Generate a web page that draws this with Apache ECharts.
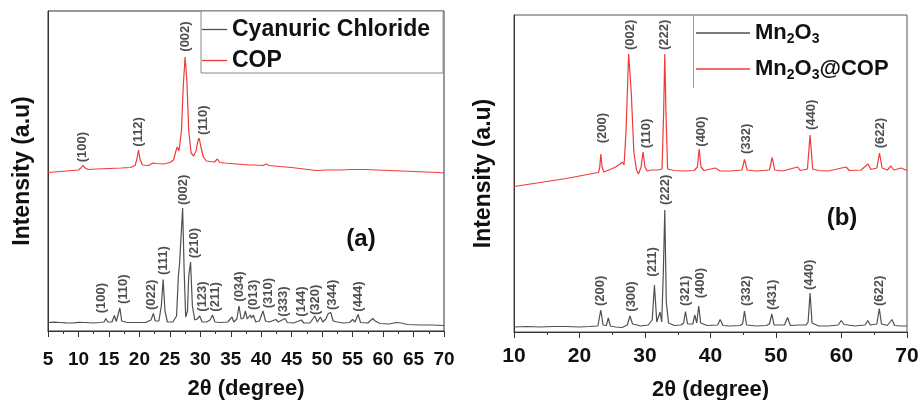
<!DOCTYPE html>
<html>
<head>
<meta charset="utf-8">
<script src="https://cdn.jsdelivr.net/npm/echarts@6/dist/echarts.min.js"></script>
<style>html,body{margin:0;padding:0;background:#fff}#c{width:921px;height:400px}</style>
</head>
<body>
<div id="c"></div>
<script>
// ---- Panel (a): 2θ vs intensity (a.u.) ----
var ccData = [[5,8.5],[6,8.8],[7,8.5],[8,8.2],[9,8],[10,8.6],[11,8.5],[12.5,8],[13.5,8.5],[14.2,9],[14.5,12.5],[14.8,9],[15.5,9],[15.9,15.5],[16.2,9.5],[16.5,11],[16.8,23],[17.1,10],[18,8.5],[19.5,8.5],[21,8.5],[21.9,11],[22.3,17.5],[22.6,10],[23.2,10],[23.6,25],[23.9,51.5],[24.2,20],[24.6,9],[25.5,9],[26.1,15],[26.4,55],[26.6,68],[26.8,66],[27.1,123],[27.35,60],[27.6,14],[27.9,20],[28.1,55],[28.4,69],[28.7,25],[29.1,11],[29.5,12],[29.9,15],[30.3,9],[31,9],[31.6,11],[32,16],[32.4,9],[33.3,8.5],[34.5,9],[35.2,14],[35.5,9],[36,12],[36.35,25],[36.7,12],[37.1,13],[37.4,20],[37.7,12],[38.2,16],[38.4,13],[38.7,16],[39.1,9],[39.7,10],[40.3,20],[40.7,10],[41.3,9],[42.4,11.5],[42.8,9],[43.9,12.5],[44.3,8.5],[45.3,8],[46.6,11],[47,8],[48,8],[48.8,15],[49.2,9],[49.7,14],[50.1,9],[50.6,12],[51,17.5],[51.4,18.5],[51.8,10],[52.5,9],[53.5,8],[54.5,8.5],[55,11.5],[55.4,9],[55.9,16.5],[56.3,8.5],[57.5,8],[58.3,12.5],[58.7,10],[59,11.5],[59.5,7.5],[61,7],[62.2,8.5],[63,8],[64,6.5],[66,6],[68,6],[70,5.5]];
var copData = [[5,158.5],[6,159],[7,159.5],[8,160],[9,160.5],[10,161],[10.4,163],[10.7,165.5],[11.1,163],[11.6,161.5],[13,162],[15,162.5],[17,163],[18.5,163.5],[19.3,165.5],[19.6,172],[19.85,181],[20.1,172],[20.5,166],[21.5,165.5],[22.2,168],[22.5,170],[22.9,167.5],[24,167],[25,168.5],[25.6,171],[26.0,180],[26.2,184],[26.5,180],[26.9,200],[27.2,245],[27.5,274],[27.8,250],[28.1,200],[28.5,178],[28.9,175],[29.3,180],[29.6,190],[29.8,193],[30.1,184],[30.5,174],[31,170],[32.3,169],[32.8,172],[33.2,168.5],[34,168],[35,167.5],[36,167],[37,166.5],[38,166],[39,166],[40.3,165.5],[40.8,167],[41.3,165.5],[43,164.5],[45,163.5],[47,162],[49,160.5],[51,161],[53,161],[55,161.5],[57,161.5],[59,161],[61,160.5],[63,160],[65,159.5],[67,159],[69,158.5],[70,158]];
var aTopLabels = [['(100)',10.7,168.7],['(112)',19.9,184.3],['(002)',27.55,279.3],['(110)',30.55,196]];
var aBotLabels = [['(100)',13.76,17.7],['(110)',17.3,27],['(022)',21.97,21],['(111)',24.0,56],['(002)',27.16,126],['(210)',29.08,72.7],['(123)',30.34,19.3],['(211)',32.5,19.3],['(034)',36.35,29.3],['(013)',38.65,21],['(310)',41.17,22.7],['(333)',43.57,14.3],['(144)',46.6,14.3],['(320)',48.97,16],['(344)',51.7,21],['(444)',56.03,19.3]];

// ---- Panel (b) ----
var mnData = [[10,5],[12,5.5],[14,5],[16,5.5],[18,5.5],[20,5],[21.5,5.5],[22.8,6],[23.25,22],[23.6,7],[24.1,6.5],[24.4,14],[24.7,6],[25.5,5],[26.5,4.5],[27.3,7],[27.7,16],[28.1,8],[28.8,7],[29.0,9],[29.3,6],[30.5,7],[31.1,12],[31.44,47],[31.8,10],[32.1,9],[32.3,20],[32.55,10],[32.8,60],[33.02,122],[33.25,30],[33.6,9],[34.5,6.5],[35.5,7],[35.9,9],[36.18,20.5],[36.5,8],[37.3,8],[37.6,17],[37.9,9],[38.2,26],[38.5,9],[39.5,6.5],[41.1,7],[41.47,12.5],[41.9,6.5],[43,6],[44.5,6.5],[44.9,8],[45.19,21],[45.5,7],[47,6],[48.5,6.5],[49.0,8],[49.37,18],[49.7,7],[51.3,7],[51.76,14.5],[52.2,6.5],[53.5,7],[54.6,7],[54.9,10],[55.2,39],[55.5,9],[56.5,6],[58,6],[59.5,7],[59.96,11.5],[60.4,7.5],[62,6],[63.6,7],[64.0,11.5],[64.4,7],[65.4,8],[65.77,23.5],[66.1,8],[67,6.5],[67.7,12.5],[68.1,6.5],[69,6],[70,6]];
var mnCopData = [[10,145.5],[12,147.5],[14,149.5],[16,151.5],[18,153.5],[20,156],[22,158.5],[22.9,159.5],[23.1,165],[23.25,178],[23.45,165],[23.7,160],[24.5,162],[25.5,165],[26.2,168],[26.55,170],[26.8,167],[27.1,200],[27.5,278],[27.9,240],[28.3,180],[28.7,162],[29.0,158],[29.4,165],[29.7,180],[30.0,165],[30.3,161],[31,162],[32,162],[32.6,163],[32.85,220],[33.02,278],[33.2,220],[33.45,163],[34.5,161.5],[36,161],[37.5,161.5],[38.0,165],[38.27,183],[38.55,165],[39,161.5],[40.7,164],[41.5,161],[43,161],[44.8,162],[45.19,172.5],[45.6,162],[47,161],[49.0,162],[49.42,174.5],[49.8,162],[51,161],[53.3,165],[53.7,161.5],[54.8,163],[55.2,197],[55.6,163],[56.5,161.5],[58,161],[60.7,165],[61.2,161.5],[63,162],[64.04,168],[64.5,162.5],[65.4,164],[65.8,179],[66.2,164],[67.0,162],[67.55,166],[68,162],[69.1,164],[70,161.5]];
var bTopLabels = [['(200)',23.55,188.7],['(002)',27.8,282],['(110)',30.27,183.7],['(222)',33.0,282],['(400)',38.57,185.3],['(332)',45.45,178],['(440)',55.38,202],['(622)',65.9,183.7]];
var bBotLabels = [['(200)',23.25,26],['(300)',27.98,20.3],['(211)',31.2,55.3],['(222)',33.07,127],['(321)',36.1,26],['(400)',38.42,33.7],['(332)',45.45,26],['(431)',49.47,22],['(440)',55.12,42],['(622)',65.82,26]];

var FONT = 'Liberation Sans, Arial, sans-serif';
var GRAY = '#505050', RED = '#f03a3a';

function labelSeries(list, idx) {
  return {
    type: 'scatter', xAxisIndex: idx, yAxisIndex: idx, symbolSize: 0, silent: true,
    data: list.map(function (d) { return { name: d[0], value: [d[1], d[2]] }; }),
    label: { show: true, formatter: '{b}', rotate: 90, position: 'inside', align: 'left', verticalAlign: 'middle',
      fontFamily: FONT, fontSize: 13, fontWeight: 'bold', color: '#222' },
    z: 5
  };
}
function xAxis(idx, min, max, interval, fs, margin) {
  return {
    type: 'value', gridIndex: idx, min: min, max: max, interval: interval,
    name: '2θ (degree)', nameLocation: 'middle', nameGap: 47,
    nameTextStyle: { fontFamily: FONT, fontSize: 22, fontWeight: 'bold', color: '#111' },
    axisLine: { show: true, lineStyle: { color: '#333', width: 1 } },
    axisTick: { show: true, inside: false, length: 6, lineStyle: { color: '#333' } },
    minorTick: { show: true, splitNumber: 2, length: 3, lineStyle: { color: '#333' } },
    splitLine: { show: false },
    axisLabel: { fontFamily: FONT, fontSize: fs, fontWeight: 'bold', color: '#111', margin: margin }
  };
}
function yAxis(idx, max, gap) {
  return {
    type: 'value', gridIndex: idx, min: 0, max: max,
    name: 'Intensity (a.u)', nameLocation: 'middle', nameGap: gap,
    nameTextStyle: { fontFamily: FONT, fontSize: 23, fontWeight: 'bold', color: '#111' },
    axisLine: { show: true, lineStyle: { color: '#333' } },
    axisTick: { show: false }, axisLabel: { show: false }, splitLine: { show: false }
  };
}

var chart = echarts.init(document.getElementById('c'), null, { renderer: 'canvas' });
chart.setOption({
  animation: false,
  backgroundColor: '#fff',
  grid: [
    { left: 48, top: 11, width: 396, height: 320, show: true, borderColor: '#333', borderWidth: 1, outerBoundsMode: 'none' },
    { left: 514, top: 15, width: 393, height: 317, show: true, borderColor: '#555', borderWidth: 1, outerBoundsMode: 'none' }
  ],
  xAxis: [xAxis(0, 5, 70, 5, 19, 19), xAxis(1, 10, 70, 10, 21, 14)],
  yAxis: [yAxis(0, 320, 14), yAxis(1, 317, 19)],
  legend: [
    { data: ['Cyanuric Chloride', 'COP'], orient: 'vertical', left: 201, top: 11,
      borderColor: '#888', borderWidth: 1, padding: [7, 13, 1, 1], itemWidth: 25, itemHeight: 1.3,
      icon: 'rect', itemGap: 8, itemTextGap: 8, backgroundColor: '#fff',
      textStyle: { fontFamily: FONT, fontSize: 23, fontWeight: 'bold', color: '#111' } },
    { data: ['Mn2O3', 'Mn2O3@COP'], orient: 'vertical', left: 693, top: 15,
      padding: [7, 4, 4, 3], itemWidth: 54, itemHeight: 1.3, icon: 'rect', itemGap: 12, itemTextGap: 7,
      formatter: function (n) { return n === 'Mn2O3' ? '{m|Mn}{s|2}{m|O}{s|3}' : '{m|Mn}{s|2}{m|O}{s|3}{m|@COP}'; },
      textStyle: { fontFamily: FONT, fontSize: 22, fontWeight: 'bold', color: '#111',
        rich: {
          m: { fontFamily: FONT, fontSize: 22, fontWeight: 'bold', color: '#111', lineHeight: 26 },
          s: { fontFamily: FONT, fontSize: 14, fontWeight: 'bold', color: '#111', verticalAlign: 'bottom', lineHeight: 12 }
        } } }
  ],
  graphic: [
    { type: 'line', shape: { x1: 693.5, y1: 15, x2: 693.5, y2: 88 }, style: { stroke: '#999', lineWidth: 1 }, z: 10 },
    { type: 'text', x: 361, y: 239, style: { text: '(a)', fontFamily: FONT, fontSize: 24, fontWeight: 'bold', fill: '#111', align: 'center', verticalAlign: 'middle' } },
    { type: 'text', x: 842, y: 218, style: { text: '(b)', fontFamily: FONT, fontSize: 24, fontWeight: 'bold', fill: '#111', align: 'center', verticalAlign: 'middle' } }
  ],
  series: [
    { name: 'Cyanuric Chloride', type: 'line', xAxisIndex: 0, yAxisIndex: 0, data: ccData, symbol: 'none',
      lineStyle: { color: GRAY, width: 1.2 }, itemStyle: { color: GRAY } },
    { name: 'COP', type: 'line', xAxisIndex: 0, yAxisIndex: 0, data: copData, symbol: 'none',
      lineStyle: { color: RED, width: 1.2 }, itemStyle: { color: RED } },
    { name: 'Mn2O3', type: 'line', xAxisIndex: 1, yAxisIndex: 1, data: mnData, symbol: 'none',
      lineStyle: { color: GRAY, width: 1.2 }, itemStyle: { color: GRAY } },
    { name: 'Mn2O3@COP', type: 'line', xAxisIndex: 1, yAxisIndex: 1, data: mnCopData, symbol: 'none',
      lineStyle: { color: RED, width: 1.2 }, itemStyle: { color: RED } },
    labelSeries(aTopLabels, 0), labelSeries(aBotLabels, 0),
    labelSeries(bTopLabels, 1), labelSeries(bBotLabels, 1)
  ]
});
</script>
</body>
</html>
